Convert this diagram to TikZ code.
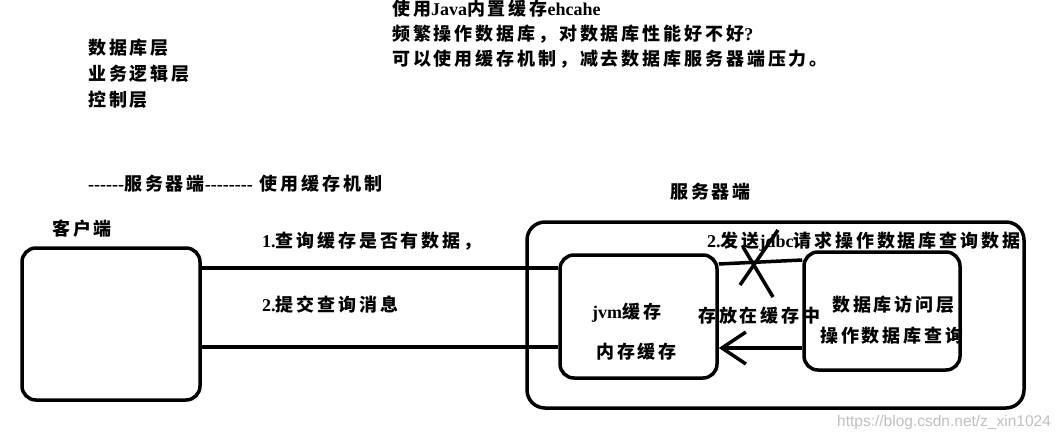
\documentclass[tikz,border=0pt]{standalone}
\usepackage{fontspec}
\setmainfont{Noto Sans CJK SC}[LetterSpace=16]
\newfontfamily\lat{Liberation Serif}
\newfontfamily\wmfont{Liberation Sans}
\usetikzlibrary{arrows.meta}
\tikzset{
  box/.style={draw, line width=3.5pt, rounded corners=14pt, inner sep=0pt},
  wire/.style={line width=3.5pt},
  txt/.style={anchor=west, inner sep=0pt, font=\fontsize{18}{20}\selectfont\bfseries},
}
\begin{document}
\begin{tikzpicture}[x=1pt,y=-1pt]
\useasboundingbox (0,0) rectangle (1062,441);
% top texts
\node[txt] (t1) at (392,9) {使用{\lat Java}内置缓存{\lat ehcahe}};
\node[txt] (t2) at (392,34) {频繁操作数据库，对数据库性能好不好{\lat ?}};
\node[txt] (t3) at (392,59) {可以使用缓存机制，减去数据库服务器端压力。};
\node[txt] (l1) at (88,48) {数据库层};
\node[txt] (l2) at (88,74) {业务逻辑层};
\node[txt] (l3) at (88,100) {控制层};
\node[txt] (mech) at (88,184) {{\lat ------}服务器端{\lat --------} 使用缓存机制};
% boxes
\node[box, minimum width=178pt, minimum height=152pt] (client) at (111,324) {};
\node[box, rounded corners=18pt, minimum width=497pt, minimum height=186pt] (server) at (775.5,315) {};
\node[box, minimum width=157pt, minimum height=123pt] (jvm) at (638.5,316.5) {};
\node[box, minimum width=156pt, minimum height=118pt] (db) at (882,311) {};
% labels
\node[txt] (clientlbl) at (52,229) {客户端};
\node[txt] (serverlbl) at (670,192) {服务器端};
\node[txt] (q1) at (262,241) {{\lat 1.}查询缓存是否有数据，};
\node[txt] (q2) at (262,305) {{\lat 2.}提交查询消息};
\node[txt] (jdbc) at (707,242) {{\lat 2.}发送{\lat jdbc}请求操作数据库查询数据};
\node[txt] (jvm1) at (592,313) {{\lat jvm}缓存};
\node[txt] (jvm2) at (596,352) {内存缓存};
\node[txt] (store) at (698,316) {存放在缓存中};
\node[txt] (db1) at (832,305) {数据库访问层};
\node[txt] (db2) at (820,336) {操作数据库查询};
% connectors
\draw[wire] (client.east |- 0,268) -- (jvm.west |- 0,268);
\draw[wire] (client.east |- 0,347) -- (jvm.west |- 0,347);
\draw[wire] (jvm.east |- 0,264) -- (db.west |- 0,260);
\draw[wire, -{Straight Barb[length=24pt,width=32pt]}] (db.west |- 0,348) -- (jvm.east |- 0,348);
% cross
\draw[wire] (740,285) -- (778,230);
\draw[wire] (743,247) -- (773,297);
% watermark
\node[anchor=west, inner sep=0pt, text=black!25, font=\wmfont\fontsize{15.5}{17}\selectfont] (wm) at (837,422) {https://blog.csdn.net/z\_xin1024};
\end{tikzpicture}
\end{document}
